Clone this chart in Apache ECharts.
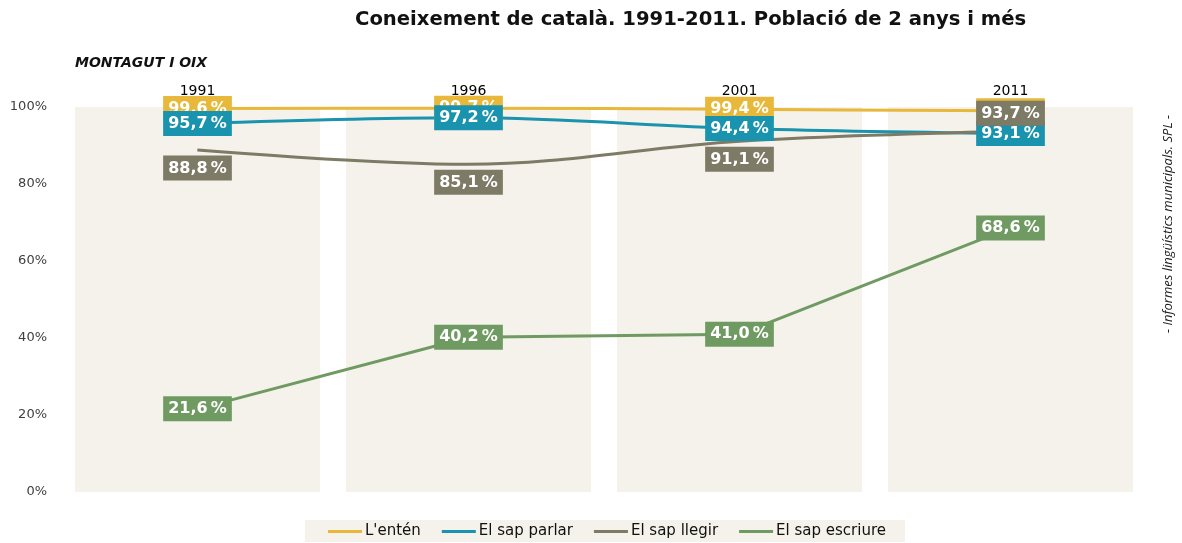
<!DOCTYPE html>
<html>
<head>
<meta charset="utf-8">
<script src="https://cdn.jsdelivr.net/npm/echarts@6/dist/echarts.min.js"></script>
<style>html,body{margin:0;padding:0;background:#fff}#c{width:1182px;height:543px}</style>
</head>
<body>
<div id="c"></div>
<script>
const years = ['1991', '1996', '2001', '2011'];
const enten = [99.6, 99.7, 99.4, 99.0];
const parlar = [95.7, 97.2, 94.4, 93.1];
const llegir = [88.8, 85.1, 91.1, 93.7];
const escriure = [21.6, 40.2, 41.0, 68.6];
const llegirLabelPos = ['bottom', 'bottom', 'bottom', 'top'];
const yTicks = [0, 20, 40, 60, 80, 100];

const fmt = p => p.value.toFixed(1).replace('.', ',') + '\u2009%';
const fontFam = '"DejaVu Sans", "Noto Sans", sans-serif';

function lineSeries(name, data, color, smooth, posArr) {
  return {
    name, type: 'line', smooth, data: data.map((v, i) => ({
      value: v,
      label: posArr ? { position: posArr[i], distance: 5 } : undefined
    })),
    symbol: 'circle', symbolSize: 1,
    lineStyle: { color, width: 3 },
    itemStyle: { color },
    z: 3,
    label: {
      show: true, position: 'inside', formatter: fmt,
      backgroundColor: color, color: '#fff', fontWeight: 'bold',
      fontSize: 16, fontFamily: fontFam, padding: [5, 5, 4, 5]
    }
  };
}

const chart = echarts.init(document.getElementById('c'));
chart.setOption({
  animation: false,
  title: [
    { text: 'Coneixement de català. 1991-2011. Població de 2 anys i més', left: 350, top: 5,
      textStyle: { fontSize: 19.6, fontWeight: 'bold', color: '#111', fontFamily: fontFam } },
    { text: 'MONTAGUT I OIX', left: 70, top: 51,
      textStyle: { fontSize: 14, fontWeight: 'bold', fontStyle: 'italic', color: '#111', fontFamily: fontFam } }
  ],
  graphic: [{
    type: 'text', x: 1168, y: 224, rotation: Math.PI / 2,
    style: { text: '- Informes lingüístics municipals. SPL -', fill: '#222', font: 'italic 13px "Open Sans", sans-serif',
      textAlign: 'center', textVerticalAlign: 'middle' }
  }],
  legend: {
    bottom: 1, left: 305, data: ["L'entén", 'El sap parlar', 'El sap llegir', 'El sap escriure'],
    icon: 'rect', itemWidth: 34, itemHeight: 3, itemGap: 21,
    backgroundColor: '#F5F1EB', padding: [4, 19, 3, 23],
    textStyle: { fontSize: 15, color: '#111', fontFamily: fontFam, padding: [0, 0, 0, -2] }
  },
  grid: { left: 62, right: 36, top: 107, bottom: 51 },
  xAxis: {
    type: 'category', data: years, position: 'top',
    axisLine: { show: false }, axisTick: { show: false },
    axisLabel: { color: '#000', fontSize: 14, margin: 9, fontFamily: fontFam }
  },
  yAxis: {
    type: 'value', min: 0, max: 100, interval: 20,
    splitLine: { show: false }, axisLine: { show: false }, axisTick: { show: false },
    axisLabel: { formatter: v => yTicks.includes(v) ? v + '%' : '', color: '#404040', fontSize: 13, margin: 15, fontFamily: fontFam }
  },
  series: [
    { name: 'bg', type: 'bar', data: years.map(() => 100), barWidth: '90.4%', silent: true,
      itemStyle: { color: '#F5F1EB' }, z: 1 },
    lineSeries("L'entén", enten, '#E8B83A', 0.35),
    lineSeries('El sap parlar', parlar, '#1A93AE', 0.35),
    lineSeries('El sap llegir', llegir, '#7D7A66', 0.35, llegirLabelPos),
    lineSeries('El sap escriure', escriure, '#6F9B62', false)
  ]
});
</script>
</body>
</html>
